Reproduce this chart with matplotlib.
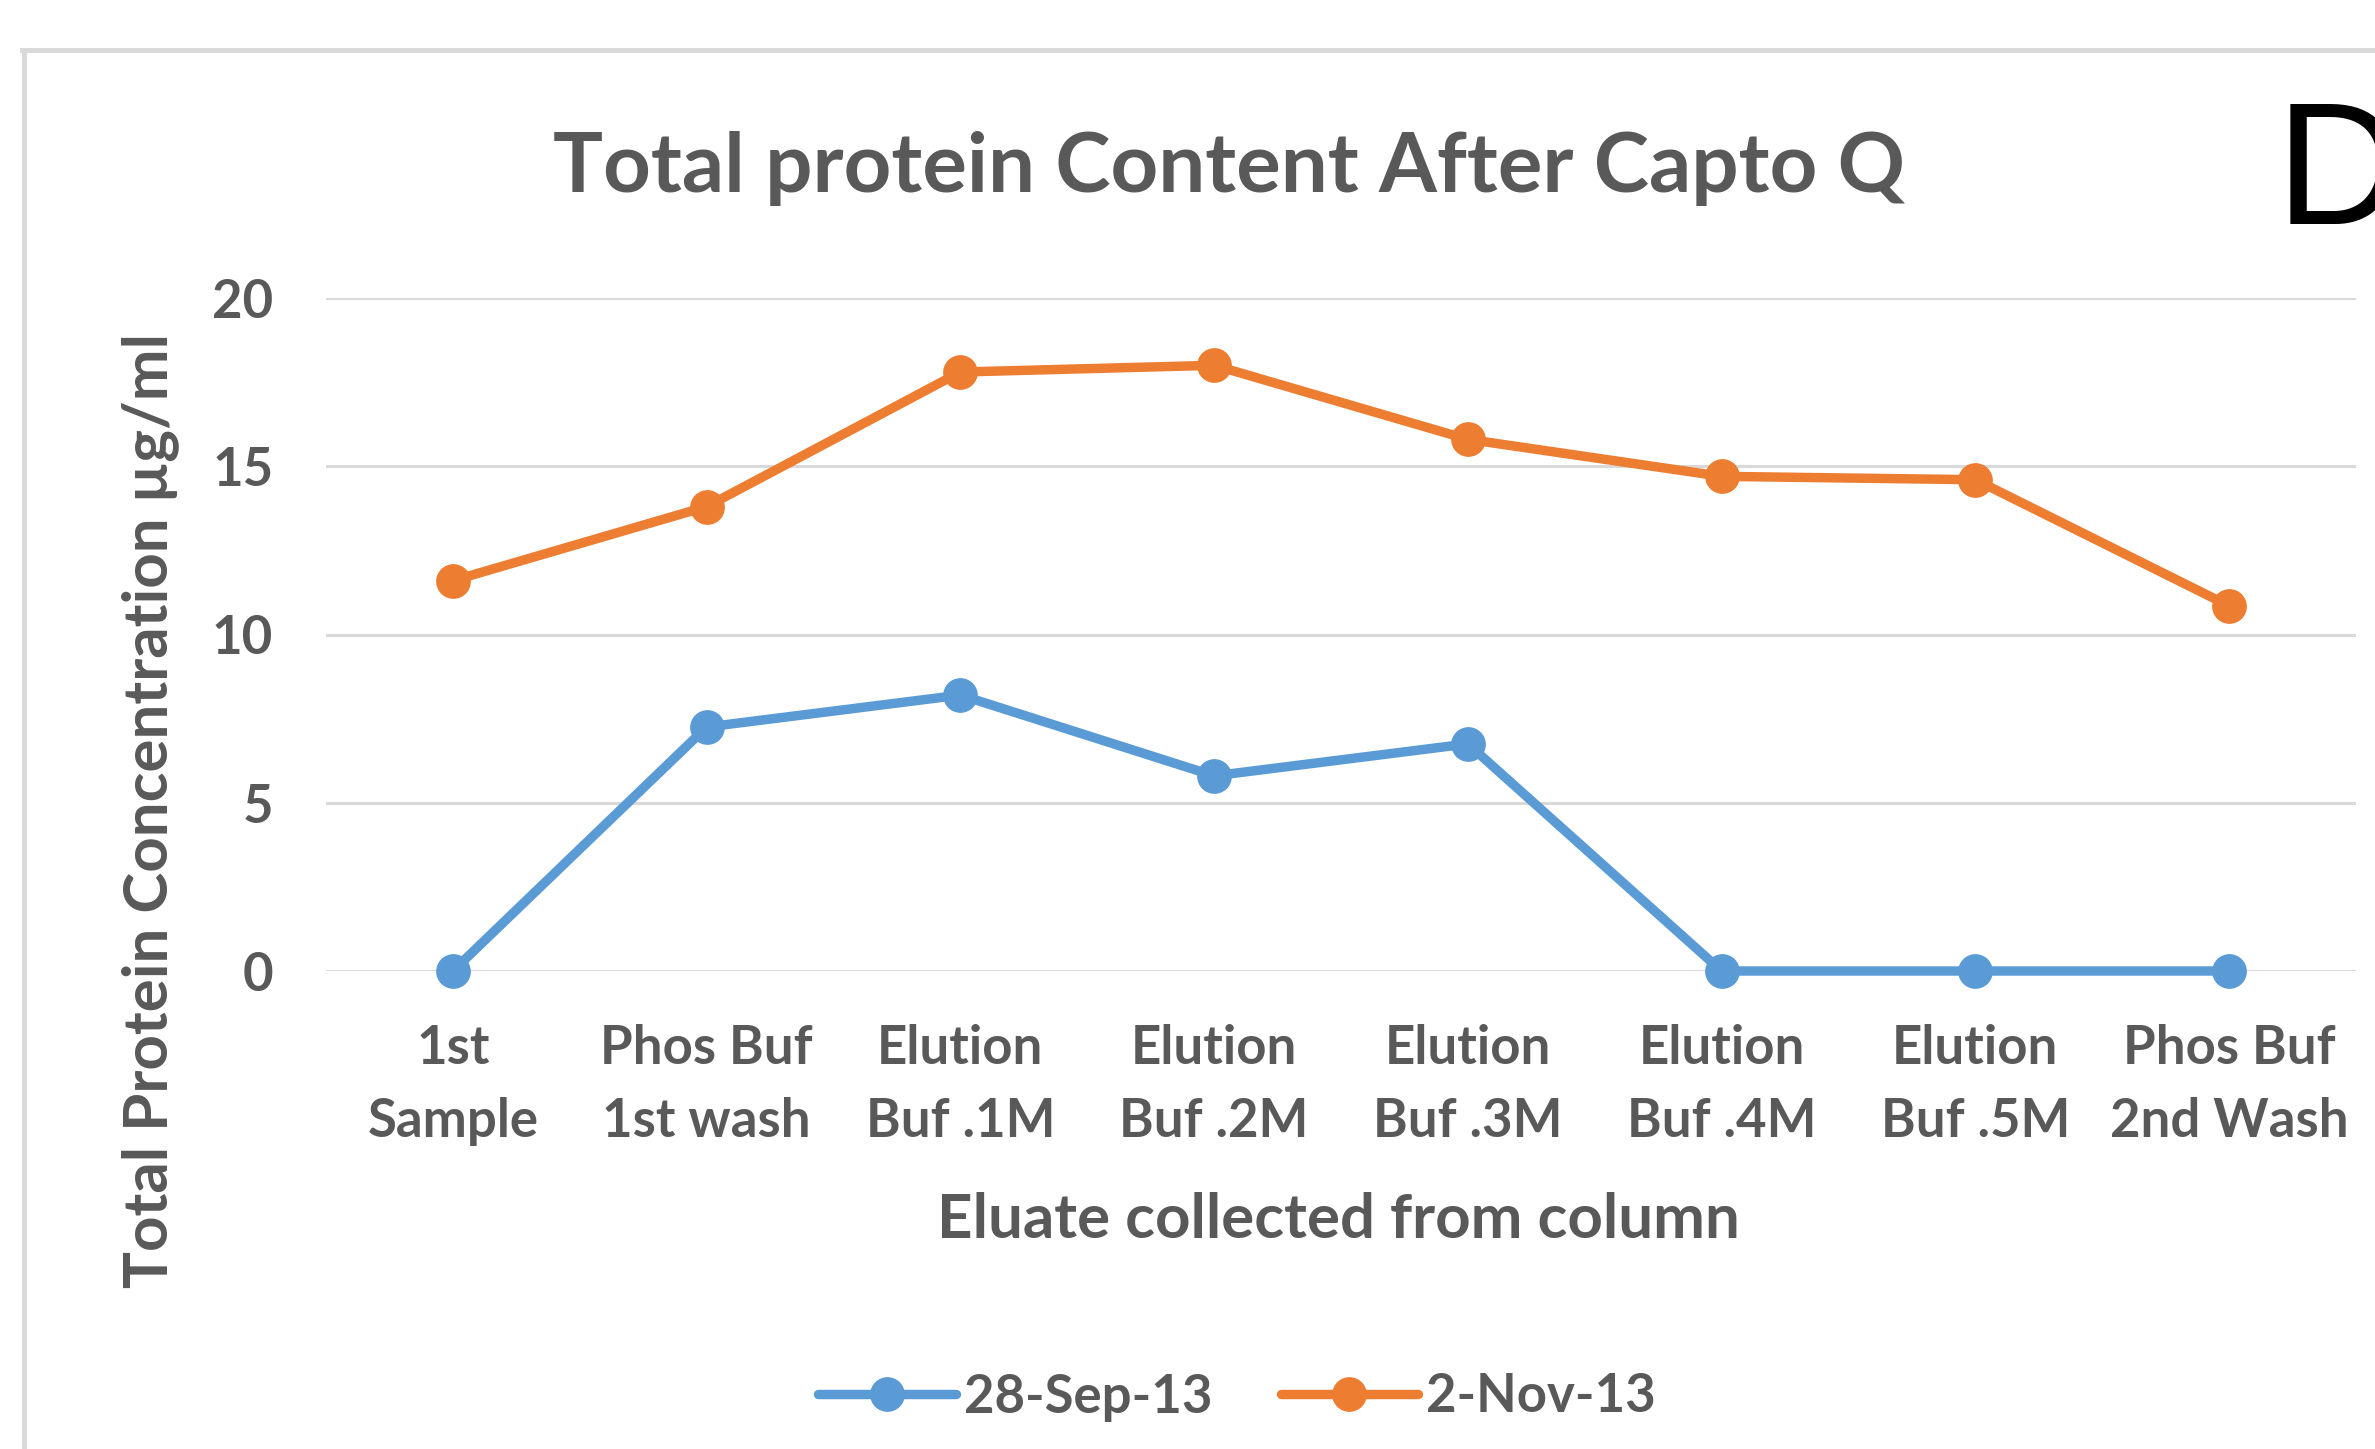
import matplotlib
matplotlib.use("Agg")
import matplotlib.pyplot as plt
from matplotlib.lines import Line2D

categories = ["1st\nSample", "Phos Buf\n1st wash", "Elution\nBuf .1M", "Elution\nBuf .2M",
              "Elution\nBuf .3M", "Elution\nBuf .4M", "Elution\nBuf .5M", "Phos Buf\n2nd Wash"]
sep_values = [0, 7.25, 8.2, 5.8, 6.75, 0, 0, 0]
nov_values = [11.6, 13.8, 17.8, 18.0, 15.8, 14.7, 14.6, 10.85]
series_labels = ["28-Sep-13", "2-Nov-13"]
yticks = [0, 5, 10, 15, 20]

FONT = ["Lato", "DejaVu Sans"]
TXT = "#595959"
BLUE = "#5B9BD5"
ORANGE = "#ED7D31"
GRID = "#D9D9D9"

plt.rcParams["font.family"] = FONT

W, H = 2375, 1449
fig = plt.figure(figsize=(W / 100, H / 100), dpi=100)

# axes placement (pixels)
ax_l, ax_r, ax_t, ax_b = 326, 2356, 298, 971
ax = fig.add_axes([ax_l / W, 1 - ax_b / H, (ax_r - ax_l) / W, (ax_b - ax_t) / H])

x = list(range(len(categories)))
ax.plot(x, sep_values, color=BLUE, lw=6.8, marker="o", ms=24, clip_on=False,
        label=series_labels[0], zorder=3, solid_capstyle="round")
ax.plot(x, nov_values, color=ORANGE, lw=6.8, marker="o", ms=24, clip_on=False,
        label=series_labels[1], zorder=3, solid_capstyle="round")

ax.set_xlim(-0.5, len(categories) - 0.5)
ax.set_ylim(0, 20)
ax.set_yticks(yticks)
ax.set_yticklabels([str(v) for v in yticks])
ax.set_xticks(x)
ax.set_xticklabels(categories, linespacing=1.6)
ax.grid(axis="y", color=GRID, lw=2.2)
ax.set_axisbelow(True)
for s in ax.spines.values():
    s.set_visible(False)
ax.tick_params(axis="both", length=0, labelcolor=TXT, labelsize=38)
ax.tick_params(axis="y", pad=38)
ax.tick_params(axis="x", pad=38)
for lab in ax.get_xticklabels() + ax.get_yticklabels():
    lab.set_fontweight("bold")

# title
fig.text(1229 / W, 1 - 192 / H, "Total protein Content After Capto Q", ha="center",
         va="baseline", fontsize=60, fontweight="bold", color=TXT)
# axis labels
fig.text(1338 / W, 1 - 1238 / H, "Eluate collected from column", ha="center",
         va="baseline", fontsize=44.5, fontweight="bold", color=TXT)
fig.text(150 / W, 1 - 811 / H, "Total Protein Concentration µg/ml", ha="center",
         va="center", rotation=90, fontsize=44.5, fontweight="bold", color=TXT)

# panel letter (cropped at the right edge, as in the source)
fig.text(2276 / W, 1 - 224 / H, "D", ha="left", va="baseline", fontsize=126,
         family=["Liberation Sans", "DejaVu Sans"], color="black")

# legend
leg = fig.legend(loc="center", bbox_to_anchor=(1237 / W, 1 - 1397 / H), ncol=2,
                 frameon=False, fontsize=38, handlelength=2.6, handletextpad=0.15,
                 columnspacing=1.3)
for t in leg.get_texts():
    t.set_color(TXT)
    t.set_fontweight("bold")

# border
fig.add_artist(Line2D([24 / W, 24 / W], [0, 1 - 50 / H], transform=fig.transFigure,
                      color=GRID, lw=3.6))
fig.add_artist(Line2D([22 / W, 1], [1 - 50 / H, 1 - 50 / H], transform=fig.transFigure,
                      color=GRID, lw=3.6))

fig.savefig("out.png", dpi=100)
